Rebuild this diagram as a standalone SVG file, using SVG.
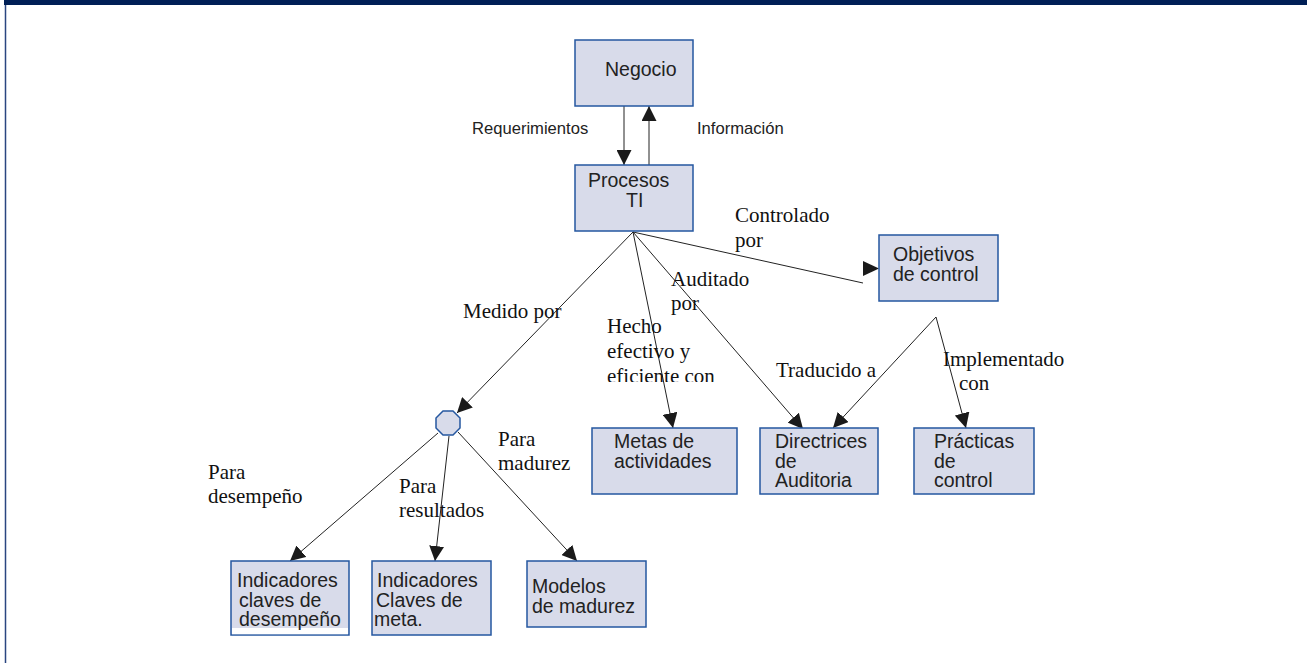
<svg xmlns="http://www.w3.org/2000/svg" width="1307" height="663" viewBox="0 0 1307 663">
<style>
.box{fill:#d8dbea;stroke:#2557a0;stroke-width:1.5}
.bt{font-family:"Liberation Sans",Arial,sans-serif;font-size:19.5px;fill:#222}
.st{font-family:"Liberation Sans",Arial,sans-serif;font-size:16.6px;fill:#222}
.lt{font-family:"Liberation Serif","Times New Roman",serif;font-size:21px;fill:#111}
.cn{stroke:#222;stroke-width:1;fill:none}
</style>
<defs>
<marker id="ah" markerWidth="15" markerHeight="15" viewBox="0 0 15 15" refX="15" refY="7.5" orient="auto" markerUnits="userSpaceOnUse"><path d="M0,0 L15,7.5 L0,15 z" fill="#1a1a1a"/></marker>
<clipPath id="clipHecho"><rect x="590" y="300" width="200" height="82"/></clipPath>
</defs>
<rect width="1307" height="663" fill="#fff"/>
<g id="frame">
<rect x="4" y="0" width="1303" height="5" fill="#001f56"/>
<line x1="5.5" y1="5" x2="5.5" y2="663" stroke="#2a4680" stroke-width="1.5"/>
</g>
<g id="connectors">
<path class="cn" d="M624,106 L624,165" stroke="#444" stroke-width="1.5" marker-end="url(#ah)"/>
<path class="cn" d="M649,165 L649,106" stroke="#444" stroke-width="1.5" marker-end="url(#ah)"/>
<path class="cn" d="M633,232 L863,283"/>
<polygon points="863,261 879,268.5 863,276" fill="#1a1a1a"/>
<path class="cn" d="M633,232 L457,413" marker-end="url(#ah)"/>
<path class="cn" d="M633,232 L673,428" marker-end="url(#ah)"/>
<path class="cn" d="M633,232 L803,429" marker-end="url(#ah)"/>
<path class="cn" d="M936,317 L833,428" marker-end="url(#ah)"/>
<path class="cn" d="M936,317 L966,428" marker-end="url(#ah)"/>
<path class="cn" d="M438,433 L290,561" marker-end="url(#ah)"/>
<path class="cn" d="M449,436 L435,561" marker-end="url(#ah)"/>
<path class="cn" d="M458,432 L577,561" marker-end="url(#ah)"/>
</g>
<g id="labels">
<text class="st" x="472" y="134">Requerimientos</text>
<text class="st" x="697" y="134">Información</text>
<text class="lt" x="735" y="222">Controlado</text>
<text class="lt" x="735" y="247">por</text>
<text class="lt" x="671" y="286">Auditado</text>
<text class="lt" x="671" y="310">por</text>
<g clip-path="url(#clipHecho)">
<text class="lt" x="607" y="333">Hecho</text>
<text class="lt" x="607" y="358">efectivo y</text>
<text class="lt" x="607" y="383">eficiente con</text>
</g>
<text class="lt" x="463" y="318">Medido por</text>
<text class="lt" x="776" y="377">Traducido a</text>
<text class="lt" x="943" y="366">Implementado</text>
<text class="lt" x="959" y="390">con</text>
<text class="lt" x="498" y="446">Para</text>
<text class="lt" x="498" y="470">madurez</text>
<text class="lt" x="208" y="479">Para</text>
<text class="lt" x="208" y="503">desempeño</text>
<text class="lt" x="399" y="493">Para</text>
<text class="lt" x="399" y="517">resultados</text>
</g>
<g id="negocio">
<rect class="box" x="575" y="40" width="118" height="66"/>
<text class="bt" x="605" y="76">Negocio</text>
</g>
<g id="procesos">
<rect class="box" x="575" y="165" width="118" height="66"/>
<text class="bt" x="588" y="187">Procesos</text>
<text class="bt" x="626" y="207">TI</text>
</g>
<g id="objetivos">
<rect class="box" x="879" y="235" width="119" height="66"/>
<text class="bt" x="893" y="261">Objetivos</text>
<text class="bt" x="893" y="281">de control</text>
</g>
<g id="octagon">
<polygon class="box" points="453,411 460,418 460,428 453,435 443,435 436,428 436,418 443,411"/>
</g>
<g id="metas">
<rect class="box" x="592" y="428" width="145" height="66"/>
<text class="bt" x="614" y="448">Metas de</text>
<text class="bt" x="614" y="468">actividades</text>
</g>
<g id="directrices">
<rect class="box" x="760" y="428" width="118" height="66"/>
<text class="bt" x="775" y="448">Directrices</text>
<text class="bt" x="775" y="468">de</text>
<text class="bt" x="775" y="487">Auditoria</text>
</g>
<g id="practicas">
<rect class="box" x="914" y="428" width="120" height="66"/>
<text class="bt" x="934" y="448">Prácticas</text>
<text class="bt" x="934" y="468">de</text>
<text class="bt" x="934" y="487">control</text>
</g>
<g id="kpi">
<rect class="box" x="231" y="561" width="118" height="74"/>
<rect x="232" y="628" width="116" height="6.2" fill="#fff"/>
<text class="bt" x="237" y="587">Indicadores</text>
<text class="bt" x="239" y="607">claves de</text>
<text class="bt" x="239" y="626">desempeño</text>
</g>
<g id="kgi">
<rect class="box" x="372" y="561" width="119" height="74"/>
<text class="bt" x="377" y="587">Indicadores</text>
<text class="bt" x="376" y="607">Claves de</text>
<text class="bt" x="374" y="626">meta.</text>
</g>
<g id="modelos">
<rect class="box" x="527" y="561" width="119" height="66"/>
<text class="bt" x="532" y="593">Modelos</text>
<text class="bt" x="532" y="613">de madurez</text>
</g>
</svg>
